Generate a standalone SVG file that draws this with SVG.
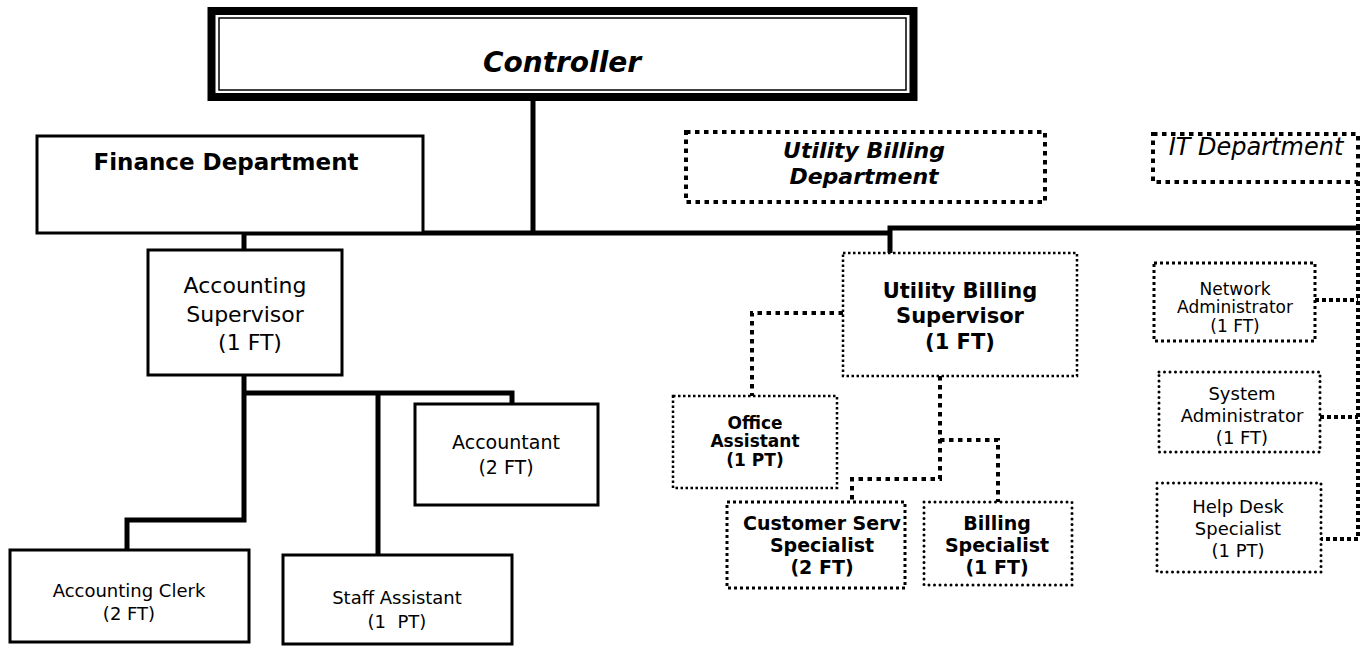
<svg xmlns="http://www.w3.org/2000/svg" width="1369" height="646" viewBox="0 0 1369 646">
<style>
text{font-family:"DejaVu Sans","Liberation Sans",sans-serif;fill:#000;text-anchor:middle}
.b{font-weight:bold}
.i{font-style:italic}
.box{fill:#fff;stroke:#000;stroke-width:3}
.solid{fill:none;stroke:#000;stroke-width:5}
.dt{fill:none;stroke:#000;stroke-width:4;stroke-dasharray:4.5 4.5}
.dtit{fill:none;stroke:#000;stroke-width:4;stroke-dasharray:4 3}
.dm{fill:#fff;stroke:#000;stroke-width:3;stroke-dasharray:3 3}
.dthin{fill:#fff;stroke:#000;stroke-width:2.5;stroke-dasharray:2.5 2.5}
.dround{fill:#fff;stroke:#000;stroke-width:3;stroke-linecap:round;stroke-dasharray:0 5.5}
.dbox{fill:#fff;stroke:#000;stroke-width:4;stroke-dasharray:4.5 4.5}
</style>
<rect width="1369" height="646" fill="#fff"/>
<g id="connectors">
<path class="solid" d="M533,100 V233 M244,233 H890 M244,231 V250 M890,253 V228 H1360"/>
<path class="solid" d="M244,375 V520 H127 V550 M244,393 H512 V404 M378,393 V555"/>
<path class="dt" d="M843,313 H752 V396 M940,376 V479 H852 V502 M940,440 H998 V502"/>
<path class="dtit" d="M1358,182 V539 H1321 M1315,300 H1358 M1320,417 H1358"/>
</g>
<g id="controller">
<rect x="211.5" y="11" width="702" height="86" fill="#fff" stroke="#000" stroke-width="8"/>
<rect x="219" y="18" width="687" height="72" fill="none" stroke="#000" stroke-width="1.5"/>
<text class="b i" x="562" y="72" font-size="28">Controller</text>
</g>
<g id="finance">
<rect class="box" x="37" y="136" width="386" height="97"/>
<text class="b" x="226" y="170" font-size="23">Finance Department</text>
</g>
<g id="ub-dept">
<rect class="dbox" x="686" y="132" width="359" height="70"/>
<text class="b i" x="864" y="158" font-size="22">Utility Billing</text>
<text class="b i" x="864" y="184" font-size="22">Department</text>
</g>
<g id="it-dept">
<rect class="dbox" x="1153" y="134" width="205" height="48"/>
<text class="i" x="1256" y="155" font-size="24">IT Department</text>
</g>
<g id="acc-sup">
<rect class="box" x="148" y="250" width="194" height="125"/>
<text x="245" y="293" font-size="22">Accounting</text>
<text x="245" y="322" font-size="22">Supervisor</text>
<text x="250" y="350" font-size="22">(1 FT)</text>
</g>
<g id="accountant">
<rect class="box" x="415" y="404" width="183" height="101"/>
<text x="506" y="449" font-size="19">Accountant</text>
<text x="506" y="474" font-size="19">(2 FT)</text>
</g>
<g id="acc-clerk">
<rect class="box" x="10" y="550" width="239" height="92"/>
<text x="129" y="597" font-size="18">Accounting Clerk</text>
<text x="129" y="620" font-size="18">(2 FT)</text>
</g>
<g id="staff-assistant">
<rect class="box" x="283" y="555" width="229" height="89"/>
<text x="397" y="604" font-size="18">Staff Assistant</text>
<text x="397" y="628" font-size="18" xml:space="preserve">(1  PT)</text>
</g>
<g id="ub-sup">
<rect class="dthin" x="843" y="253" width="234" height="123"/>
<text class="b" x="960" y="298" font-size="21">Utility Billing</text>
<text class="b" x="960" y="323" font-size="21">Supervisor</text>
<text class="b" x="960" y="349" font-size="21">(1 FT)</text>
</g>
<g id="office-assistant">
<rect class="dthin" x="673" y="396" width="164" height="92"/>
<text class="b" x="755" y="429" font-size="17">Office</text>
<text class="b" x="755" y="447" font-size="17">Assistant</text>
<text class="b" x="755" y="466" font-size="17">(1 PT)</text>
</g>
<g id="customer-serv">
<rect class="dm" x="727" y="502" width="178" height="86"/>
<text class="b" x="822" y="530" font-size="19">Customer Serv</text>
<text class="b" x="822" y="552" font-size="19">Specialist</text>
<text class="b" x="822" y="574" font-size="19">(2 FT)</text>
</g>
<g id="billing">
<rect class="dround" x="924" y="502" width="148" height="83"/>
<text class="b" x="997" y="530" font-size="19">Billing</text>
<text class="b" x="997" y="552" font-size="19">Specialist</text>
<text class="b" x="997" y="574" font-size="19">(1 FT)</text>
</g>
<g id="network-admin">
<rect class="dm" x="1154" y="263" width="161" height="78"/>
<text x="1235" y="295" font-size="17">Network</text>
<text x="1235" y="313" font-size="17">Administrator</text>
<text x="1235" y="332" font-size="17">(1 FT)</text>
</g>
<g id="system-admin">
<rect class="dround" x="1159" y="372" width="161" height="80"/>
<text x="1242" y="400" font-size="18">System</text>
<text x="1242" y="422" font-size="18">Administrator</text>
<text x="1242" y="444" font-size="18">(1 FT)</text>
</g>
<g id="help-desk">
<rect class="dround" x="1157" y="483" width="164" height="89"/>
<text x="1238" y="513" font-size="18">Help Desk</text>
<text x="1238" y="535" font-size="18">Specialist</text>
<text x="1238" y="557" font-size="18">(1 PT)</text>
</g>
</svg>
